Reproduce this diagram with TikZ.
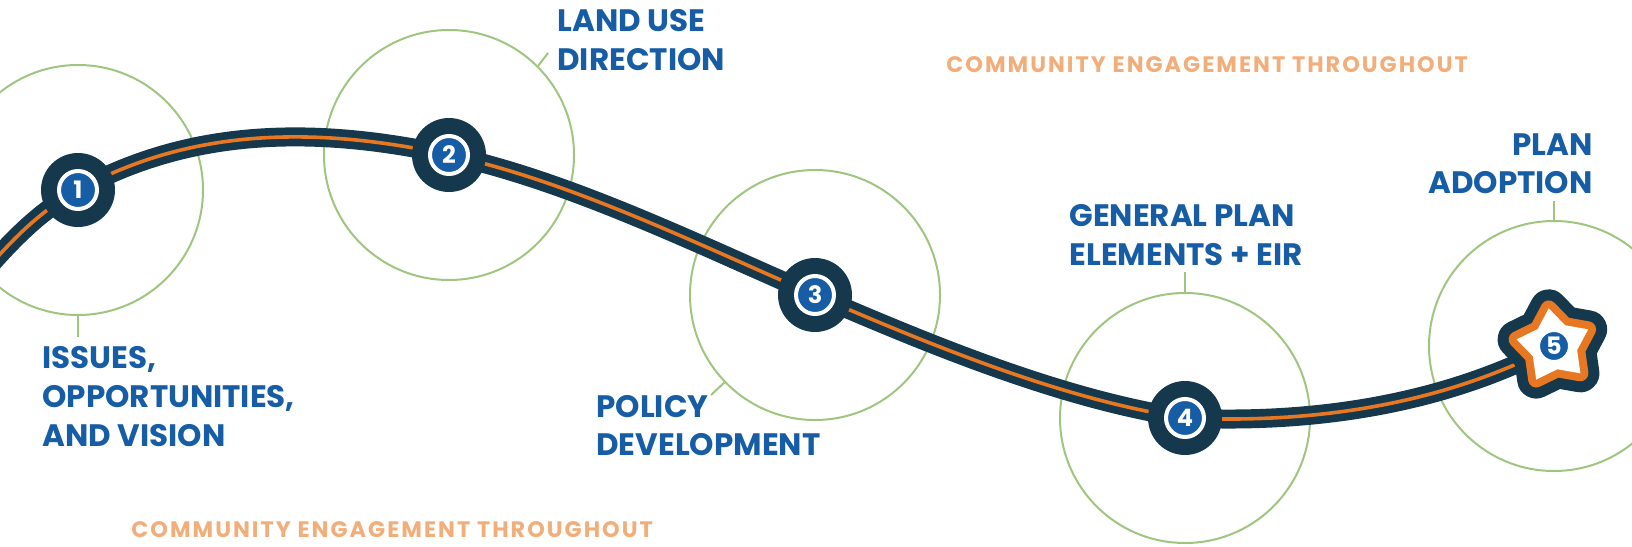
\documentclass[tikz,border=0pt]{standalone}
\usepackage{fontspec}
\setmainfont{Poppins}
\newfontfamily\engfont[LetterSpace=9]{Poppins}
\definecolor{navy}{RGB}{21,56,76}
\definecolor{road}{RGB}{232,119,34}
\definecolor{stepblue}{RGB}{22,93,166}
\definecolor{ring}{RGB}{160,197,128}
\definecolor{engage}{RGB}{242,174,122}
\newcommand\myroadpath{(p0) .. controls +(35,-40) and +(-45,25) .. (p1)
  .. controls +(95,-52) and +(-160,-35) .. (p2)
  .. controls +(120,26) and +(-120,-52) .. (p3)
  .. controls +(120,52) and +(-120,-18) .. (p4)
  .. controls +(130,6) and +(-110,58) .. (p5)}
\newcommand\mystarpath{(-98:38) -- (-62:23.5) -- (-26:38) -- (10:23.5) -- (46:38) -- (82:23.5) -- (118:38) -- (154:23.5) -- (190:38) -- (226:23.5) -- cycle}
\begin{document}
\begin{tikzpicture}[x=0.5pt,y=-0.5pt,
  ringcircle/.style={circle, draw=ring, line width=1pt, minimum size=125pt, inner sep=0pt},
  tickline/.style={draw=ring, line width=1pt},
  lbl/.style={font=\fontsize{15.5}{18}\selectfont\bfseries, text=stepblue, inner sep=0pt},
  engagetext/.style={font=\engfont\fontsize{11.2}{13}\selectfont\bfseries, text=engage, inner sep=0pt},
  hub/.style={circle, fill=navy, minimum size=37pt, inner sep=0pt},
  badge/.style={circle, fill=stepblue, draw=white, line width=2pt, minimum size=19pt, inner sep=0pt, text=white, font=\fontsize{12}{12}\selectfont\bfseries},
  roadbase/.style={draw=navy, line width=9.5pt},
  roadline/.style={draw=road, line width=1.8pt},
  starpath/.style={line join=round}
]
\useasboundingbox (0,0) rectangle (1632,546);
% step positions
\coordinate (p0) at (-30,288);
\coordinate (p1) at (78,190);
\coordinate (p2) at (449,155);
\coordinate (p3) at (815,295);
\coordinate (p4) at (1185,418);
\coordinate (p5) at (1554,346);
% green circles
\node[ringcircle] (g1) at (p1) {};
\node[ringcircle] (g2) at (p2) {};
\node[ringcircle] (g3) at (p3) {};
\node[ringcircle] (g4) at (p4) {};
\node[ringcircle] (g5) at (p5) {};
% ticks
\coordinate (t1) at (78,337);
\coordinate (t2) at (548,53);
\coordinate (t3) at (711,395);
\coordinate (t4) at (1185,272);
\coordinate (t5) at (1554,201);
\draw[tickline] (g1.south) -- (t1);
\draw[tickline] (g2.45) -- (t2);
\draw[tickline] (g3.224) -- (t3);
\draw[tickline] (g4.north) -- (t4);
\draw[tickline] (g5.north) -- (t5);
% road
\draw[roadbase] \myroadpath;
\draw[roadline] \myroadpath;
% hubs
\node[hub] (h1) at (p1) {};
\node[hub] (h2) at (p2) {};
\node[hub] (h3) at (p3) {};
\node[hub] (h4) at (p4) {};
\node[badge] (s1) at (p1) {1};
\node[badge] (s2) at (p2) {2};
\node[badge] (s3) at (p3) {3};
\node[badge] (s4) at (p4) {4};
% star
\begin{scope}[shift={(p5)}]
  \draw[starpath, navy, line width=19pt, fill=navy] \mystarpath;
  \draw[starpath, road, line width=8pt, fill=road] \mystarpath;
  \fill[starpath, white] \mystarpath;
\end{scope}
\node[badge, minimum size=16pt] (s5) at (p5) {5};
% labels
\node[lbl, anchor=base west] (l1a) at (42,368.5) {ISSUES,};
\node[lbl, anchor=base west] (l1b) at (42,407.5) {OPPORTUNITIES,};
\node[lbl, anchor=base west] (l1c) at (42,446.5) {AND VISION};
\node[lbl, anchor=base west] (l2a) at (557,31.7) {LAND USE};
\node[lbl, anchor=base west] (l2b) at (557,70) {DIRECTION};
\node[lbl, anchor=base west] (l3a) at (596,417) {POLICY};
\node[lbl, anchor=base west] (l3b) at (596,455) {DEVELOPMENT};
\node[lbl, anchor=base] (l4a) at (1182,226) {GENERAL PLAN};
\node[lbl, anchor=base] (l4b) at (1186,265) {ELEMENTS + EIR};
\node[lbl, anchor=base east] (l5a) at (1593,155) {PLAN};
\node[lbl, anchor=base east] (l5b) at (1593,193) {ADOPTION};
\node[engagetext, anchor=base west] (e1) at (946,72) {COMMUNITY ENGAGEMENT THROUGHOUT};
\node[engagetext, anchor=base west] (e2) at (131,537) {COMMUNITY ENGAGEMENT THROUGHOUT};
\end{tikzpicture}
\end{document}
